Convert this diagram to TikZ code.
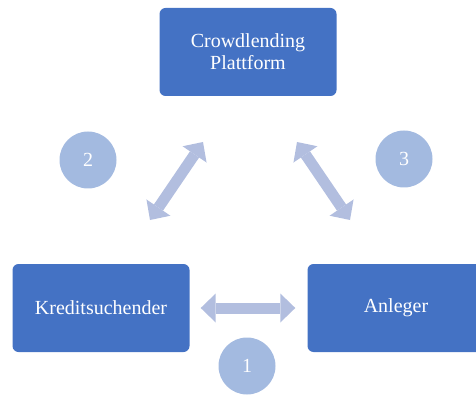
\documentclass[tikz,border=0pt]{standalone}
\usepackage{fontspec}
\setmainfont{Liberation Serif}
\usetikzlibrary{arrows.meta}
\definecolor{boxblue}{RGB}{68,114,196}
\definecolor{circblue}{RGB}{163,186,224}
\definecolor{arrblue}{RGB}{178,190,223}

\begin{document}
\begin{tikzpicture}[x=1pt,y=1pt,
		box/.style={shape=rectangle,rounded corners=6pt,fill=boxblue,text=white,minimum width=177pt,minimum height=88pt,align=center,font=\fontsize{20}{22}\selectfont},
		num/.style={shape=circle,fill=circblue,text=white,minimum size=57pt,inner sep=0pt,font=\fontsize{20}{22}\selectfont},
		biarrow/.style={draw=arrblue,line width=11pt,{Triangle[length=15pt,width=29pt,line width=0pt]}-{Triangle[length=15pt,width=29pt,line width=0pt]}}]
		\clip (0,0) rectangle (476,394);
		
		\node[box] (Plattform) at (248,342) {Crowdlending\\Plattform};
		\node[box] (Kreditsuchender) at (101,86) {Kreditsuchender};
		\node[box] (Anleger) at (396,86) {Anleger};
		
		\node[num] (Step1) at (247,28) {1};
		\node[num] (Step2) at (88,234) {2};
		\node[num] (Step3) at (404,235) {3};
		
		\coordinate (Arrow2a) at (150,174);
		\coordinate (Arrow2b) at (203,252);
		\coordinate (Arrow3a) at (297,252);
		\coordinate (Arrow3b) at (350,174);
		
		\draw[biarrow,shorten <=11pt,shorten >=12pt] (Kreditsuchender.east) to (Anleger.west);
		\draw[biarrow] (Arrow2a) to (Arrow2b);
		\draw[biarrow] (Arrow3a) to (Arrow3b);
		
	\end{tikzpicture}
\end{document}
